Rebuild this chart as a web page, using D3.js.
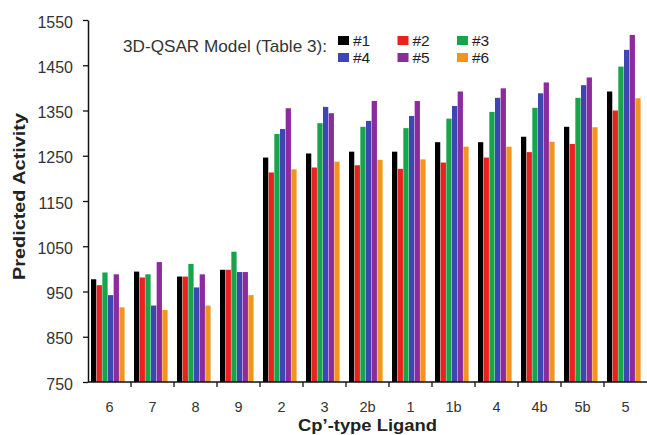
<!DOCTYPE html>
<html>
<head>
<meta charset="utf-8">
<style>
  body { margin: 0; background: #fff; }
  svg { font-family: Arial, 'Liberation Sans', sans-serif; display: block; }
</style>
</head>
<body>
<svg width="647" height="435"></svg>
<script src="https://d3js.org/d3.v7.min.js"></script>
<script>
// ligands along the x axis
const ligands = ["6", "7", "8", "9", "2", "3", "2b", "1", "1b", "4", "4b", "5b", "5"];
const models = ["#1", "#2", "#3", "#4", "#5", "#6"];
const modelColors = ["#000000", "#e8231d", "#17a44b", "#3d46b2", "#8b2b9c", "#f2951f"];

// predicted activity per model, in ligand order
const model1 = [977, 994, 983, 998, 1246, 1255, 1259, 1259, 1280, 1280, 1292, 1314, 1392];
const model2 = [964, 981, 983, 998, 1213, 1224, 1229, 1221, 1235, 1246, 1258, 1276, 1350];
const model3 = [992, 988, 1011, 1038, 1298, 1322, 1314, 1311, 1332, 1347, 1356, 1378, 1447];
const model4 = [942, 919, 959, 993, 1309, 1358, 1327, 1338, 1360, 1378, 1388, 1406, 1484];
const model5 = [988, 1015, 988, 993, 1355, 1344, 1371, 1371, 1392, 1399, 1412, 1423, 1517];
const model6 = [915, 909, 919, 942, 1220, 1237, 1241, 1242, 1270, 1270, 1281, 1313, 1377];
const series = [model1, model2, model3, model4, model5, model6];

const yTicks = [750, 850, 950, 1050, 1150, 1250, 1350, 1450, 1550];

const svg = d3.select("svg");
const m = { left: 88, right: 647, top: 20, bottom: 382 };

const x0 = d3.scaleBand().domain(ligands).range([m.left, m.right]).padding(0);
const x1 = d3.scaleBand().domain(models).range([3, 37]).padding(0);
const y = d3.scaleLinear().domain([750, 1550]).range([m.bottom, m.top]);
const color = d3.scaleOrdinal().domain(models).range(modelColors);

// bars
const groups = svg.append("g")
  .selectAll("g")
  .data(ligands)
  .join("g")
  .attr("transform", d => `translate(${x0(d)},0)`);

groups.selectAll("rect")
  .data((d, i) => models.map((md, j) => ({ model: md, value: series[j][i] })))
  .join("rect")
  .attr("x", d => x1(d.model))
  .attr("width", x1.bandwidth() - 0.4)
  .attr("y", d => y(d.value))
  .attr("height", d => y(750) - y(d.value))
  .attr("fill", d => color(d.model));

// y axis
const yAxis = svg.append("g")
  .attr("transform", `translate(${m.left},0)`)
  .call(d3.axisLeft(y).tickValues(yTicks).tickSize(5).tickSizeOuter(0).tickFormat(d3.format("d")));
yAxis.select(".domain").attr("stroke", "#111").attr("stroke-width", 1.5);
yAxis.selectAll(".tick line").attr("stroke", "#111").attr("stroke-width", 1.3);
yAxis.selectAll("text").attr("font-size", 16).attr("fill", "#333").attr("x", -15).attr("dy", "0.45em");

// x axis: ticks at group boundaries
const xAxis = svg.append("g").attr("transform", `translate(0,${m.bottom})`);
xAxis.append("line")
  .attr("x1", m.left).attr("x2", m.right)
  .attr("stroke", "#111").attr("stroke-width", 1.5);
xAxis.selectAll(".xt")
  .data(ligands.slice(1))
  .join("line")
  .attr("class", "xt")
  .attr("x1", d => x0(d)).attr("x2", d => x0(d))
  .attr("y1", 0).attr("y2", 5)
  .attr("stroke", "#111").attr("stroke-width", 1.3);
xAxis.selectAll(".xl")
  .data(ligands)
  .join("text")
  .attr("class", "xl")
  .attr("x", d => x0(d) + x0.bandwidth() / 2)
  .attr("y", 30)
  .attr("text-anchor", "middle")
  .attr("font-size", 14.5)
  .attr("fill", "#333")
  .text(d => d);

// axis titles
svg.append("text")
  .attr("x", 298).attr("y", 431)
  .attr("font-size", 16.5).attr("font-weight", "bold").attr("fill", "#222")
  .attr("textLength", 139).attr("lengthAdjust", "spacingAndGlyphs")
  .text("Cp\u2019-type Ligand");

svg.append("text")
  .attr("transform", "translate(25,280) rotate(-90)")
  .attr("font-size", 16.5).attr("font-weight", "bold").attr("fill", "#222")
  .attr("textLength", 167).attr("lengthAdjust", "spacingAndGlyphs")
  .text("Predicted Activity");

// legend
svg.append("text")
  .attr("x", 123).attr("y", 52)
  .attr("font-size", 17).attr("fill", "#333")
  .attr("textLength", 204).attr("lengthAdjust", "spacingAndGlyphs")
  .text("3D-QSAR Model (Table 3):");

const legend = svg.append("g")
  .selectAll("g")
  .data(models)
  .join("g")
  .attr("transform", (d, i) => `translate(${338 + (i % 3) * 59.5},${36 + Math.floor(i / 3) * 17})`);
legend.append("rect")
  .attr("width", 11).attr("height", 9)
  .attr("fill", d => color(d));
legend.append("text")
  .attr("x", 15).attr("y", 10)
  .attr("font-size", 15.5).attr("fill", "#222")
  .text(d => d);
</script>
</body>
</html>
